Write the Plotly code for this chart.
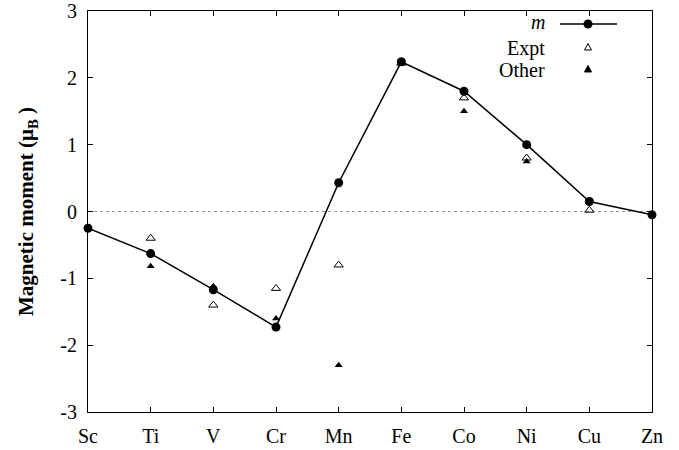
import plotly.graph_objects as go

elements = ["Sc", "Ti", "V", "Cr", "Mn", "Fe", "Co", "Ni", "Cu", "Zn"]
m_vals = [-0.25, -0.63, -1.17, -1.73, 0.43, 2.24, 1.80, 1.00, 0.15, -0.05]
expt_x = ["Ti", "V", "Cr", "Mn", "Fe", "Co", "Ni", "Cu"]
expt_vals = [-0.40, -1.40, -1.15, -0.80, 2.22, 1.70, 0.80, 0.02]
other_x = ["Ti", "V", "Cr", "Mn", "Fe", "Co", "Ni"]
other_vals = [-0.82, -1.12, -1.60, -2.30, 2.25, 1.50, 0.75]
y_ticks = [-3, -2, -1, 0, 1, 2, 3]
y_ticktext = ["-3", "-2", "-1", "0", "1", "2", "3"]

W, H = 679, 450
L, R, T, B = 88, 27, 11, 38
pw, ph = W - L - R, H - T - B

def px(x):
    return (x - L) / pw

def py(y):
    return (H - B - y) / ph

FONT = "Liberation Serif, Times New Roman, serif"

fig = go.Figure()
fig.add_trace(go.Scatter(x=elements, y=m_vals, mode="lines+markers",
                         line=dict(color="black", width=1.5),
                         marker=dict(symbol="circle", size=9, color="black"),
                         showlegend=False, cliponaxis=False))
fig.add_trace(go.Scatter(x=expt_x, y=expt_vals, mode="markers",
                         marker=dict(symbol="triangle-up-open", size=8, color="black",
                                     line=dict(width=1)),
                         showlegend=False))
fig.add_trace(go.Scatter(x=other_x, y=other_vals, mode="markers",
                         marker=dict(symbol="triangle-up", size=7, color="black"),
                         showlegend=False))

# zero line
fig.add_shape(type="line", xref="paper", yref="y", x0=0, x1=1, y0=0, y1=0,
              line=dict(color="#999999", width=1, dash="dot"), layer="below")

# manual legend
legend_items = [("<i>m</i>", 22), ("Expt", 48), ("Other", 70)]
for txt, yy in legend_items:
    fig.add_annotation(text=txt, xref="paper", yref="paper", x=px(547), y=py(yy),
                       xanchor="right", yanchor="middle", showarrow=False,
                       font=dict(family=FONT, size=20, color="black"))
fig.add_shape(type="line", xref="paper", yref="paper", x0=px(560), x1=px(617),
              y0=py(24), y1=py(24), line=dict(color="black", width=1.5))
fig.add_shape(type="circle", xref="paper", yref="paper", xsizemode="pixel", ysizemode="pixel",
              xanchor=px(588), yanchor=py(24), x0=-4.5, x1=4.5, y0=-4.5, y1=4.5,
              fillcolor="black", line=dict(color="black", width=0))
fig.add_shape(type="path", xref="paper", yref="paper", xsizemode="pixel", ysizemode="pixel",
              xanchor=px(588), yanchor=py(47), path="M -3.5,-3 L 3.5,-3 L 0,3.5 Z",
              fillcolor="white", line=dict(color="black", width=1))
fig.add_shape(type="path", xref="paper", yref="paper", xsizemode="pixel", ysizemode="pixel",
              xanchor=px(588), yanchor=py(69), path="M -3.5,-3 L 3.5,-3 L 0,3.5 Z",
              fillcolor="black", line=dict(color="black", width=1))

fig.update_layout(
    width=W, height=H,
    margin=dict(l=L, r=R, t=T, b=B, autoexpand=False),
    paper_bgcolor="white", plot_bgcolor="white",
    font=dict(family=FONT, size=20, color="black"),
    xaxis=dict(type="category", categoryorder="array", categoryarray=elements,
               range=[0, 9], showgrid=False, zeroline=False, automargin=False,
               showline=True, linecolor="black", linewidth=1, mirror="ticks",
               ticks="inside", ticklen=5, tickcolor="black", ticklabelstandoff=6,
               tickfont=dict(family=FONT, size=20)),
    yaxis=dict(range=[-3, 3], tickvals=y_ticks, ticktext=y_ticktext,
               showgrid=False, zeroline=False, automargin=False,
               showline=True, linecolor="black", linewidth=1, mirror="ticks",
               ticks="inside", ticklen=5, tickcolor="black", ticklabelstandoff=6,
               tickfont=dict(family=FONT, size=20),
               title=dict(text="<b>Magnetic moment (μ<sub>B</sub> )</b>",
                          font=dict(family=FONT, size=21), standoff=20)),
)

fig.write_html("out.html")
